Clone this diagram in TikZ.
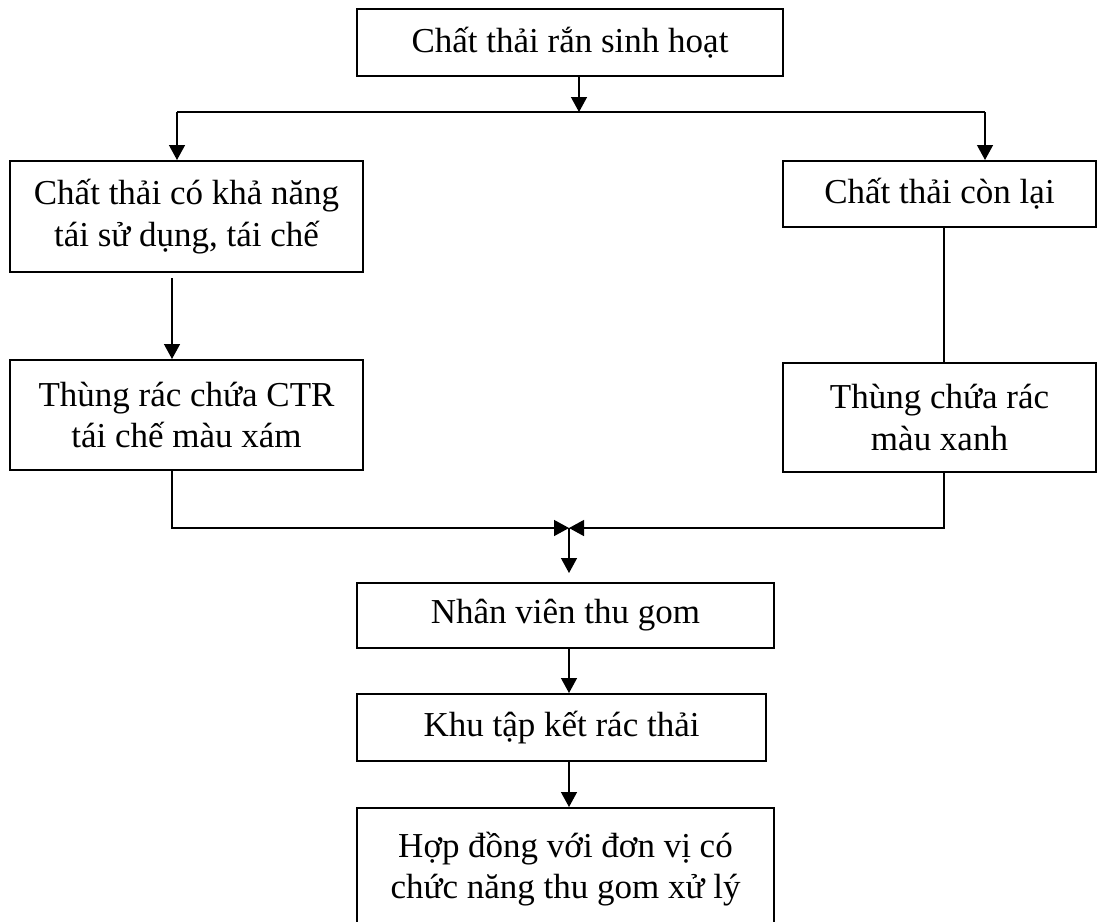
\documentclass[tikz,border=0pt]{standalone}
\usepackage{fontspec}
\setmainfont{Liberation Serif}
\usetikzlibrary{arrows.meta}

\begin{document}
\begin{tikzpicture}[x=0.4pt,y=-0.4pt,
  blk/.style={draw, line width=0.8pt, inner sep=0pt, align=center,
    font=\fontsize{14pt}{16.5pt}\selectfont},
  conn/.style={line width=0.55pt},
  arr/.style={conn, -{Triangle[length=6pt,width=6.4pt]}}]
\useasboundingbox (0,0) rectangle (1097,921);

% boxes
\node[blk, minimum width=170.4pt, minimum height=26.8pt] (ctrsh) at (570,42.5) {Chất thải rắn sinh hoạt};
\node[blk, minimum width=141.2pt, minimum height=44.4pt] (taiche) at (186.5,216.5) {Chất thải có khả năng\\tái sử dụng, tái chế};
\node[blk, minimum width=125.2pt, minimum height=26.4pt] (conlai) at (939.5,194) {Chất thải còn lại};
\node[blk, minimum width=141.2pt, minimum height=44pt] (thungxam) at (186.5,415) {Thùng rác chứa CTR\\tái chế màu xám};
\node[blk, minimum width=125.2pt, minimum height=43.6pt] (thungxanh) at (939.5,417.5) {Thùng chứa rác\\màu xanh};
\node[blk, minimum width=166.8pt, minimum height=26pt] (nhanvien) at (565.5,615.5) {Nhân viên thu gom};
\node[blk, minimum width=163.6pt, minimum height=26.8pt] (khutapket) at (561.5,727.5) {Khu tập kết rác thải};
\node[blk, minimum width=166.8pt, minimum height=48.8pt] (hopdong) at (565.5,869) {Hợp đồng với đơn vị có\\chức năng thu gom xử lý};

% split
\coordinate (split) at (579,112);
\coordinate (bl) at (177,112);
\coordinate (br) at (985,112);
\draw[arr] (ctrsh.south -| split) -- (split);
\draw[conn] (bl) -- (br);
\draw[arr] (bl) -- (taiche.north -| bl);
\draw[arr] (br) -- (conlai.north -| br);

% left and right branches
\coordinate (lx) at (172,278);
\coordinate (rx) at (944,300);
\draw[arr] (lx) -- (thungxam.north -| lx);
\draw[conn] (conlai.south -| rx) -- (thungxanh.north -| rx);

% merge
\coordinate (m) at (569,528);
\coordinate (mdown) at (569,573);
\draw[arr] (thungxam.south -| lx) |- (m);
\draw[arr] (thungxanh.south -| rx) |- (m);
\draw[arr] (m) -- (mdown);

% bottom chain
\draw[arr] (nhanvien.south -| m) -- (khutapket.north -| m);
\draw[arr] (khutapket.south -| m) -- (hopdong.north -| m);
\end{tikzpicture}
\end{document}
